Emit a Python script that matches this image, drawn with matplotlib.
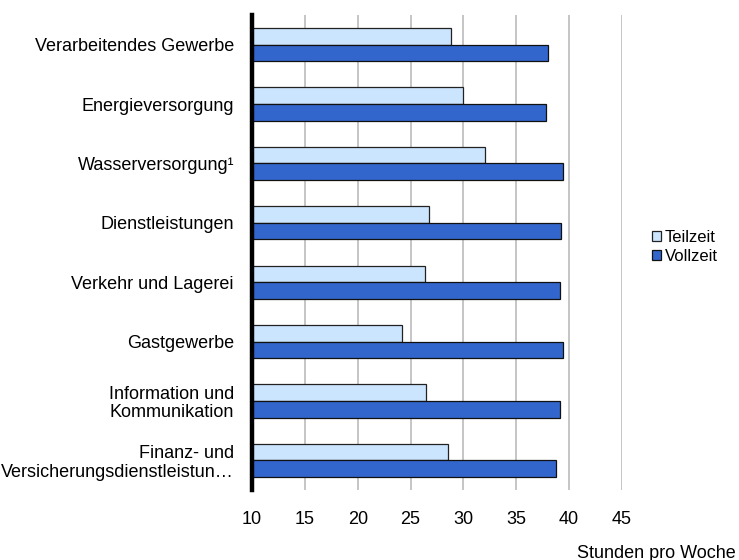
import numpy as np
from matplotlib import pyplot as plt

# Durchschnittliche Wochenarbeitszeit nach Wirtschaftszweig
categories = ["Verarbeitendes Gewerbe", "Energieversorgung", "Wasserversorgung\u00b9",
              "Dienstleistungen", "Verkehr und Lagerei", "Gastgewerbe",
              "Information und\nKommunikation", "Finanz- und\nVersicherungsdienstleistun\u2026"]
teilzeit = [28.8, 30.0, 32.0, 26.7, 26.4, 24.2, 26.5, 28.5]
vollzeit = [38.0, 37.8, 39.4, 39.2, 39.1, 39.4, 39.1, 38.8]
x_ticks = [10, 15, 20, 25, 30, 35, 40, 45]

plt.rcParams['font.family'] = ['Liberation Sans', 'DejaVu Sans']

fig = plt.figure(figsize=(7.39, 5.6), dpi=100)
ax = fig.add_axes([252 / 739, 1 - 490 / 560, 370 / 739, 475 / 560])

y = np.arange(len(categories))
h = 0.28
ax.barh(y - h / 2, np.array(teilzeit) - 10, height=h, left=10, color="#cce5ff",
        edgecolor="#222222", linewidth=0.9, label="Teilzeit", zorder=3)
ax.barh(y + h / 2, np.array(vollzeit) - 10, height=h, left=10, color="#3366cc",
        edgecolor="#111111", linewidth=0.9, label="Vollzeit", zorder=3)

ax.set_xlim(10, 45)
ax.set_ylim(len(categories) - 0.5, -0.5)
ax.set_xticks(x_ticks)
ax.set_xticklabels([str(t) for t in x_ticks], fontsize=13)
ax.set_yticks(y)
ax.set_yticklabels(categories, fontsize=13, linespacing=1.1)
ax.tick_params(axis='both', length=0)
ax.tick_params(axis='x', pad=15)
ax.tick_params(axis='y', pad=13)

ax.grid(axis='x', color="#c0c0c0", linewidth=1.3, zorder=0)
for s in ["top", "right", "bottom"]:
    ax.spines[s].set_visible(False)
ax.spines["left"].set_linewidth(3.2)
ax.spines["left"].set_color("black")
ax.spines["left"].set_zorder(4)

leg = ax.legend(loc="center left", bbox_to_anchor=(652 / 739, 1 - 247 / 560), bbox_transform=fig.transFigure,
                frameon=False, fontsize=12, handlelength=0.55, handleheight=0.55,
                handletextpad=0.2, labelspacing=0.25, borderaxespad=0, borderpad=0)

fig.text(736 / 739, 1 - 553 / 560, "Stunden pro Woche", ha="right", va="center", fontsize=13)

plt.savefig("out.png", format="png")
plt.close()
